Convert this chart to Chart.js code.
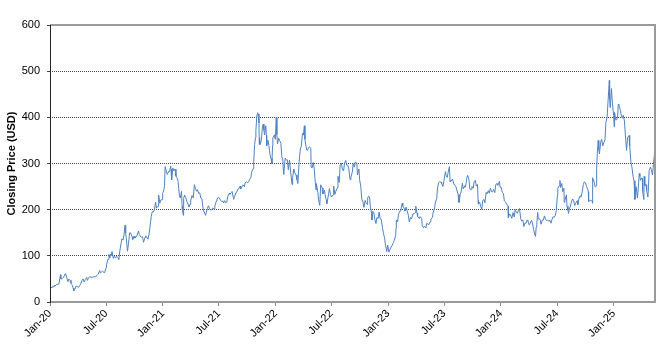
<!DOCTYPE html>
<html>
<head>
<meta charset="utf-8">
<title>Closing Price</title>
<script src="https://cdn.jsdelivr.net/npm/chart.js@4.4.1/dist/chart.umd.min.js"></script>
<style>
  html, body { margin: 0; padding: 0; background: #fff; }
  canvas { display: block; }
</style>
</head>
<body>
<canvas id="c" width="671" height="347"></canvas>
<script>
// Closing prices, [month-day, close] per year
const y2020 = [["01-02",28.7],["01-08",32.8],["01-10",31.9],["01-14",35.9],["01-17",34.2],["01-22",38.0],["01-24",37.6],["01-29",38.2],["01-31",43.4],
["02-04",59.1],["02-05",49.9],["02-07",49.9],["02-11",51.6],["02-14",53.3],["02-19",61.2],["02-21",60.1],["02-24",53.6],["02-27",45.3],["02-28",44.5],
["03-02",49.6],["03-06",46.9],["03-09",40.5],["03-12",37.7],["03-13",36.4],["03-16",29.7],["03-18",24.1],["03-20",28.5],["03-23",29.0],["03-24",33.7],["03-27",34.3],
["04-01",32.1],["04-03",32.0],["04-07",36.4],["04-09",38.2],["04-14",47.3],["04-17",50.1],["04-21",43.4],["04-24",48.3],["04-29",53.3],
["05-01",46.8],["05-05",52.1],["05-08",54.6],["05-13",54.0],["05-15",53.3],["05-20",54.4],["05-22",54.7],["05-27",54.7],["05-29",55.7],
["06-03",58.8],["06-05",59.9],["06-10",68.3],["06-12",62.4],["06-17",66.1],["06-19",66.7],["06-24",64.0],["06-26",63.6],
["07-01",74.6],["07-02",80.6],["07-07",92.7],["07-10",102.9],["07-13",95.4],["07-15",103.7],["07-17",100.1],["07-20",109.5],["07-24",94.5],["07-28",99.1],["07-31",95.4],
["08-04",99.2],["08-07",96.8],["08-11",91.6],["08-14",110.0],["08-18",125.8],["08-21",136.7],["08-25",134.3],["08-28",147.6],["08-31",166.1],
["09-02",149.4],["09-04",139.4],["09-08",110.1],["09-11",124.2],["09-15",149.8],["09-18",149.8],["09-23",141.4],["09-25",135.3],["09-30",143.0],
["10-02",138.4],["10-07",141.4],["10-09",144.7],["10-14",153.8],["10-16",146.6],["10-21",140.9],["10-23",140.2],["10-27",141.4],["10-30",129.3],
["11-04",140.4],["11-06",143.3],["11-11",138.5],["11-13",136.2],["11-17",147.3],["11-20",163.2],["11-24",185.1],["11-27",195.3],
["12-01",194.9],["12-04",199.3],["12-08",216.6],["12-11",203.3],["12-16",207.6],["12-18",231.7],["12-22",213.9],["12-24",220.6],["12-29",221.7],["12-31",235.2]];

const y2021 = [["01-04",243.3],["01-06",252.0],["01-08",293.3],["01-12",283.1],["01-15",276.4],["01-20",283.5],["01-22",282.2],["01-26",294.4],["01-27",288.1],["01-29",264.5],
["02-02",290.1],["02-05",284.0],["02-09",287.9],["02-12",272.8],["02-17",266.7],["02-19",260.9],["02-23",232.0],["02-26",225.2],
["03-02",239.5],["03-04",207.0],["03-05",199.3],["03-08",187.7],["03-09",224.0],["03-12",231.6],["03-16",225.9],["03-19",218.3],["03-24",210.7],["03-26",206.2],["03-30",211.7],
["04-01",220.6],["04-05",230.5],["04-09",225.7],["04-13",254.1],["04-16",246.3],["04-20",239.7],["04-23",243.3],["04-27",234.8],["04-30",236.5],
["05-04",224.6],["05-07",224.1],["05-12",196.6],["05-14",196.4],["05-19",187.7],["05-21",193.0],["05-25",202.6],["05-28",208.4],
["06-02",201.2],["06-04",199.3],["06-09",199.7],["06-11",203.3],["06-16",201.1],["06-18",207.8],["06-23",218.9],["06-25",224.1],["06-30",226.6],
["07-02",226.0],["07-07",219.9],["07-09",218.0],["07-14",218.6],["07-16",214.4],["07-20",219.6],["07-23",214.7],["07-27",216.7],["07-30",229.1],
["08-04",236.1],["08-06",233.3],["08-10",236.6],["08-13",239.4],["08-18",222.3],["08-20",226.3],["08-25",236.6],["08-27",237.0],
["09-01",244.7],["09-03",244.7],["09-08",250.7],["09-10",245.0],["09-15",250.9],["09-17",253.8],["09-22",249.9],["09-24",258.4],["09-29",260.4],
["10-01",258.4],["10-06",260.6],["10-08",264.5],["10-13",270.4],["10-15",281.0],["10-20",288.6],["10-22",303.2],["10-25",341.6],["10-28",356.3],["10-29",371.3],
["11-01",402.9],["11-04",410.0],["11-05",407.4],["11-08",387.6],["11-09",341.2],["11-10",356.0],["11-12",341.0],["11-16",351.6],["11-19",379.0],["11-22",385.6],["11-24",372.0],["11-26",361.7],["11-30",381.6],
["12-02",361.3],["12-03",338.3],["12-07",350.6],["12-10",339.0],["12-14",318.6],["12-17",310.9],["12-20",300.0],["12-22",338.3],["12-23",355.7],["12-28",362.1],["12-31",352.3]];

const y2022 = [["01-03",399.9],["01-05",362.7],["01-07",342.3],["01-11",354.8],["01-14",349.9],["01-18",343.5],["01-21",314.6],["01-24",310.0],["01-27",276.4],["01-28",282.1],
["02-01",311.9],["02-04",308.0],["02-08",307.8],["02-11",286.7],["02-15",307.5],["02-18",285.7],["02-23",254.7],["02-25",269.9],
["03-01",288.1],["03-04",279.8],["03-08",275.0],["03-11",265.1],["03-14",256.5],["03-18",302.6],["03-22",331.3],["03-25",336.9],["03-29",365.3],
["04-01",361.5],["04-04",381.8],["04-06",352.4],["04-08",341.8],["04-12",329.0],["04-14",328.3],["04-18",334.7],["04-21",336.3],["04-25",332.7],["04-26",292.1],["04-29",290.3],
["05-03",302.3],["05-06",288.6],["05-09",262.4],["05-12",242.7],["05-13",256.5],["05-18",236.5],["05-20",221.3],["05-24",209.4],["05-27",253.9],
["06-01",246.8],["06-03",234.0],["06-08",242.4],["06-10",232.7],["06-14",221.0],["06-16",213.1],["06-17",216.8],["06-22",235.7],["06-24",245.7],["06-28",232.3],
["07-01",227.3],["07-06",231.7],["07-08",251.0],["07-12",233.1],["07-15",240.1],["07-20",247.4],["07-22",272.2],["07-26",258.9],["07-29",297.1],
["08-02",300.6],["08-05",288.2],["08-09",283.7],["08-12",300.0],["08-16",306.6],["08-19",296.7],["08-23",296.1],["08-26",288.1],["08-30",265.2],
["09-02",270.2],["09-07",283.7],["09-09",299.7],["09-13",292.1],["09-16",303.4],["09-21",300.8],["09-23",275.3],["09-28",287.8],["09-30",265.3],
["10-04",249.4],["10-07",223.1],["10-11",216.5],["10-14",205.0],["10-18",220.2],["10-21",214.4],["10-24",211.3],["10-26",224.6],["10-28",228.5],
["11-01",227.8],["11-04",207.5],["11-08",191.3],["11-09",177.6],["11-11",196.0],["11-15",194.4],["11-18",180.2],["11-22",169.9],["11-25",182.9],["11-29",180.8],
["12-02",194.9],["12-06",179.8],["12-09",179.1],["12-13",161.0],["12-16",150.2],["12-20",137.8],["12-23",123.2],["12-27",109.1],["12-30",123.2]];

const y2023 = [["01-03",108.1],["01-06",113.1],["01-10",118.9],["01-13",122.4],["01-18",128.8],["01-20",133.4],["01-25",144.4],["01-26",160.3],["01-27",177.9],["01-31",173.2],
["02-03",190.0],["02-07",196.8],["02-10",196.9],["02-15",214.2],["02-17",208.3],["02-22",202.1],["02-24",196.9],["02-28",205.7],
["03-03",197.8],["03-07",187.7],["03-10",173.4],["03-14",183.3],["03-17",180.1],["03-22",191.2],["03-24",190.4],["03-29",193.9],["03-31",207.5],
["04-04",192.6],["04-06",185.1],["04-12",180.5],["04-14",185.0],["04-19",180.6],["04-21",165.1],["04-25",160.7],["04-28",164.3],
["05-03",160.6],["05-05",170.1],["05-10",168.5],["05-12",168.0],["05-17",173.9],["05-19",180.1],["05-24",182.9],["05-26",193.2],["05-31",203.9],
["06-02",214.0],["06-07",224.6],["06-09",244.4],["06-13",258.7],["06-16",260.5],["06-21",259.5],["06-23",256.6],["06-27",250.2],["06-30",261.8],
["07-05",282.5],["07-07",274.4],["07-11",269.8],["07-14",281.4],["07-18",293.3],["07-20",262.9],["07-21",260.0],["07-26",264.4],["07-28",266.4],
["08-02",254.1],["08-04",253.9],["08-08",249.7],["08-11",242.7],["08-15",233.0],["08-18",215.5],["08-22",233.2],["08-25",238.6],["08-29",257.2],
["09-01",245.0],["09-06",251.9],["09-08",248.5],["09-12",267.5],["09-15",274.4],["09-19",266.5],["09-22",244.9],["09-26",244.1],["09-29",250.2],
["10-03",246.5],["10-06",260.5],["10-10",263.6],["10-13",251.1],["10-17",254.9],["10-19",220.1],["10-20",212.0],["10-24",216.5],["10-27",207.3],["10-31",200.8],
["11-03",220.0],["11-07",222.2],["11-10",214.7],["11-14",237.4],["11-17",234.3],["11-21",241.2],["11-24",235.5],["11-28",246.7],
["12-01",238.8],["12-05",238.7],["12-08",243.8],["12-12",237.0],["12-15",253.5],["12-19",257.2],["12-22",252.5],["12-27",261.4],["12-29",248.5]];

const y2024 = [["01-02",248.4],["01-05",237.5],["01-09",235.0],["01-12",218.9],["01-17",215.6],["01-19",212.2],["01-24",207.8],["01-25",182.6],["01-29",190.9],
["02-01",188.9],["02-05",181.1],["02-09",193.6],["02-13",184.0],["02-16",200.0],["02-20",193.8],["02-23",192.0],["02-27",199.7],
["03-01",202.6],["03-05",180.7],["03-08",175.3],["03-12",177.5],["03-15",163.6],["03-19",171.3],["03-22",170.8],["03-26",177.7],["03-28",175.8],
["04-02",166.6],["04-05",171.1],["04-09",176.9],["04-12",171.1],["04-16",157.1],["04-19",147.1],["04-22",142.1],["04-24",162.1],["04-26",168.3],["04-29",194.1],
["05-01",180.0],["05-03",181.2],["05-07",177.8],["05-10",168.5],["05-14",177.6],["05-17",177.5],["05-21",186.6],["05-24",179.2],["05-29",176.2],["05-31",178.1],
["06-04",174.8],["06-07",177.5],["06-11",170.7],["06-14",178.0],["06-18",184.9],["06-21",183.0],["06-25",187.4],["06-28",197.9],
["07-02",231.3],["07-03",246.4],["07-08",252.5],["07-10",263.3],["07-12",248.2],["07-16",256.6],["07-19",239.2],["07-23",246.4],["07-24",216.0],["07-26",219.8],["07-31",232.1],
["08-02",207.7],["08-05",198.9],["08-07",191.8],["08-09",200.0],["08-13",207.8],["08-16",216.1],["08-20",223.3],["08-23",220.3],["08-27",209.2],["08-30",214.1],
["09-04",219.4],["09-06",210.7],["09-10",226.2],["09-13",230.3],["09-17",227.9],["09-20",238.3],["09-24",254.3],["09-27",260.5],
["10-01",258.0],["10-04",250.1],["10-08",244.5],["10-10",238.8],["10-11",217.8],["10-15",219.6],["10-18",220.7],["10-22",218.0],["10-23",213.7],["10-24",260.5],["10-25",269.2],["10-29",259.5],
["11-01",249.0],["11-05",251.4],["11-06",288.5],["11-08",321.2],["11-11",350.0],["11-13",330.2],["11-15",320.7],["11-19",346.0],["11-22",352.6],["11-26",338.2],["11-29",345.2],
["12-03",351.4],["12-06",389.2],["12-10",401.0],["12-13",436.2],["12-17",479.9],["12-18",440.1],["12-20",421.1],["12-24",462.3],["12-27",431.7],["12-31",403.8]];

const y2025 = [["01-02",379.3],["01-03",410.4],["01-07",394.4],["01-10",394.7],["01-13",403.3],["01-15",428.2],["01-17",426.5],["01-22",415.1],["01-24",406.6],["01-28",398.1],["01-31",404.6],
["02-04",392.2],["02-07",361.6],["02-11",328.5],["02-14",355.8],["02-19",360.6],["02-21",337.8],["02-25",302.8],["02-28",293.0],
["03-04",272.0],["03-07",262.7],["03-10",222.2],["03-12",248.1],["03-14",250.0],["03-18",225.3],["03-21",248.7],["03-24",278.4],["03-26",272.1],["03-28",263.6],
["04-01",268.5],["04-03",267.3],["04-04",239.4],["04-08",221.9],["04-09",272.2],["04-11",252.3],["04-15",254.1],["04-17",241.4],["04-21",227.5],["04-23",250.7],["04-25",285.0],["04-29",292.0],
["05-02",287.2],["05-06",275.4],["05-09",298.3],["05-12",318.4],["05-14",347.7]];

const years = [[2020, y2020], [2021, y2021], [2022, y2022], [2023, y2023], [2024, y2024], [2025, y2025]];

// Axis tick labels (first of each January / July)
const tickLabels = ["Jan-20","Jul-20","Jan-21","Jul-21","Jan-22","Jul-22","Jan-23","Jul-23","Jan-24","Jul-24","Jan-25"];
const yTicks = [0, 100, 200, 300, 400, 500, 600];

const DAY = 86400000;
const origin = Date.UTC(2020, 0, 1);
function dayIndex(year, month, day) {
  return Math.round((Date.UTC(year, month - 1, day) - origin) / DAY);
}

const points = [];
years.forEach(([yr, rows]) => {
  rows.forEach(([md, close]) => {
    const [m, d] = md.split('-').map(Number);
    points.push({ x: dayIndex(yr, m, d), y: close });
  });
});

const monthIdx = { Jan: 1, Jul: 7 };
const tickDays = tickLabels.map(l => {
  const [mon, yy] = l.split('-');
  return dayIndex(2000 + Number(yy), monthIdx[mon], 1);
});

const FONT = "'Liberation Sans', Arial, sans-serif";

// Plot-area frame: grey border with a dark left axis line
const framePlugin = {
  id: 'frame',
  afterDraw(chart) {
    const { ctx, chartArea: a } = chart;
    ctx.save();
    ctx.strokeStyle = '#9a9a9a';
    ctx.lineWidth = 2;
    ctx.beginPath();
    ctx.moveTo(a.left, a.top);
    ctx.lineTo(a.right, a.top);
    ctx.lineTo(a.right, a.bottom);
    ctx.lineTo(a.left, a.bottom);
    ctx.stroke();
    ctx.strokeStyle = '#222';
    ctx.lineWidth = 1;
    ctx.beginPath();
    ctx.moveTo(a.left + 0.5, a.top);
    ctx.lineTo(a.left + 0.5, a.bottom + 1);
    ctx.stroke();
    ctx.restore();
  }
};

new Chart(document.getElementById('c').getContext('2d'), {
  type: 'line',
  data: {
    datasets: [{
      data: points,
      borderColor: '#4f82c0',
      borderWidth: 1,
      pointRadius: 0,
      tension: 0,
      fill: false
    }]
  },
  options: {
    responsive: false,
    animation: false,
    layout: { padding: { top: 25, right: 16, left: 0, bottom: 0 } },
    plugins: { legend: { display: false }, tooltip: { enabled: false } },
    scales: {
      x: {
        type: 'linear',
        min: 0,
        max: points[points.length - 1].x,
        afterBuildTicks: s => { s.ticks = tickDays.map(v => ({ value: v })); },
        afterFit: s => { s.height = 45; },
        ticks: {
          autoSkip: false,
          maxRotation: 45,
          minRotation: 45,
          padding: 1,
          color: '#000',
          font: { family: FONT, size: 11 },
          callback: v => tickLabels[tickDays.indexOf(v)]
        },
        grid: { drawOnChartArea: false, drawTicks: true, tickLength: 4, tickColor: '#888', lineWidth: 1 },
        border: { display: false }
      },
      y: {
        min: 0,
        max: 600,
        afterBuildTicks: s => { s.ticks = yTicks.map(v => ({ value: v })); },
        afterFit: s => { s.width = 50; },
        ticks: {
          padding: 7,
          color: '#000',
          font: { family: FONT, size: 11 }
        },
        title: {
          display: true,
          text: 'Closing Price (USD)',
          color: '#000',
          padding: { top: 5, bottom: 0 },
          font: { family: FONT, size: 11, weight: 'bold' }
        },
        grid: {
          color: c => (c.tick && (c.tick.value === 0 || c.tick.value === 600)) ? 'rgba(0,0,0,0)' : '#444',
          lineWidth: 1,
          drawTicks: true,
          tickLength: 3,
          tickColor: '#444',
          tickBorderDash: []
        },
        border: { display: false, dash: [1, 1] }
      }
    }
  },
  plugins: [framePlugin]
});
</script>
</body>
</html>
